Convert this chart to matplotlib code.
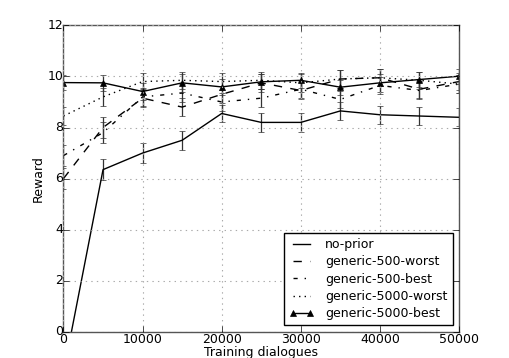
import matplotlib
matplotlib.use('Agg')
import matplotlib.pyplot as plt

plt.style.use('classic')
plt.rcParams['font.family'] = ['DejaVu Sans']
plt.rcParams['font.size'] = 9

# training dialogues
dialogues = [0, 5000, 10000, 15000, 20000, 25000, 30000, 35000, 40000, 45000, 50000]

no_prior = [-1.6, 6.35, 7.0, 7.5, 8.55, 8.2, 8.2, 8.65, 8.5, 8.45, 8.4]
no_prior_err = [0.4, 0.4, 0.38, 0.38, 0.32, 0.36, 0.36, 0.35, 0.35, 0.35, 0.35]

g500_worst = [6.0, 8.0, 9.15, 8.8, 9.3, 9.75, 9.45, 9.9, 9.95, 9.5, 9.8]
g500_worst_err = [0.4, 0.4, 0.36, 0.36, 0.34, 0.34, 0.34, 0.34, 0.34, 0.34, 0.34]

g500_best = [6.9, 7.8, 9.2, 9.35, 9.0, 9.15, 9.5, 9.1, 9.65, 9.45, 9.7]
g500_best_err = [0.4, 0.4, 0.36, 0.36, 0.34, 0.34, 0.34, 0.34, 0.34, 0.34, 0.34]

g5000_worst = [8.45, 9.2, 9.8, 9.85, 9.8, 9.85, 9.75, 9.9, 9.95, 9.85, 9.7]
g5000_worst_err = [0.35, 0.35, 0.34, 0.34, 0.34, 0.34, 0.34, 0.34, 0.34, 0.34, 0.34]

g5000_best = [9.76, 9.75, 9.41, 9.75, 9.59, 9.79, 9.85, 9.58, 9.75, 9.88, 10.01]
g5000_best_err = [0.3, 0.3, 0.35, 0.35, 0.3, 0.3, 0.3, 0.3, 0.35, 0.3, 0.3]

labels = ['no-prior', 'generic-500-worst', 'generic-500-best',
          'generic-5000-worst', 'generic-5000-best']

fig = plt.figure(figsize=(5.1, 3.58), dpi=100, facecolor='white')
ax = fig.add_axes([0.1245, 0.0735, 0.7755, 0.8555])

series = [
    (no_prior, no_prior_err, '-', None),
    (g500_worst, g500_worst_err, '--', None),
    (g500_best, g500_best_err, '-.', None),
    (g5000_worst, g5000_worst_err, ':', None),
    (g5000_best, g5000_best_err, '-', '^'),
]

for (vals, errs, ls, mk), lab in zip(series, labels):
    ax.errorbar(dialogues, vals, yerr=errs, fmt='none', ecolor='#333333',
                elinewidth=0.9, capsize=2.5)
    ax.plot(dialogues, vals, color='black', linestyle=ls, marker=mk,
            markersize=5, linewidth=1.0, label=lab)

ax.set_xlim(0, 50000)
ax.set_ylim(0, 12)
ax.set_xticks([0, 10000, 20000, 30000, 40000, 50000])
ax.set_yticks([0, 2, 4, 6, 8, 10, 12])
ax.grid(True, color='#aaaaaa', linestyle=':', linewidth=0.8)
ax.set_xlabel('Training dialogues', labelpad=0)
ax.set_ylabel('Reward', labelpad=2)
ax.tick_params(direction='in', length=4, pad=1)
ax.tick_params(axis='y', pad=0)
for s in ax.spines.values():
    s.set_color('#555555')

leg = ax.legend(loc='lower right', numpoints=2, fontsize=9, frameon=True,
                fancybox=False, handlelength=2.0, borderaxespad=0.5,
                labelspacing=0.35, markerscale=0.8, handletextpad=0.9)
leg.get_frame().set_edgecolor('black')

fig.savefig('out.png', dpi=100)
